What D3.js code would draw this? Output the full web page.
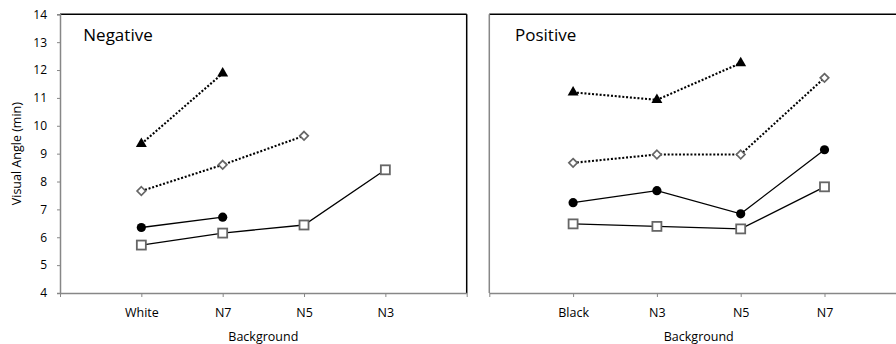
<!DOCTYPE html>
<html><head><meta charset="utf-8">
<script src="https://cdn.jsdelivr.net/npm/d3@7"></script>
<style>body{margin:0;background:#fff}svg{display:block}text{font-family:"Open Sans",sans-serif;fill:#000}</style>
</head><body><svg id="c" width="896" height="344"></svg>
<script>
const yTicks = [4,5,6,7,8,9,10,11,12,13,14];
const negCats = ["White","N7","N5","N3"];
const posCats = ["Black","N3","N5","N7"];
// Negative panel series (null = missing)
const negTriangle = [9.35, 11.88, null, null];
const negDiamond  = [7.66, 8.60, 9.64, null];
const negCircle   = [6.35, 6.72, null, null];
const negSquare   = [5.72, 6.15, 6.44, 8.42];
// Positive panel series
const posTriangle = [11.20, 10.93, 12.25, null];
const posDiamond  = [8.67, 8.97, 8.97, 11.72];
const posCircle   = [7.24, 7.67, 6.84, 9.14];
const posSquare   = [6.48, 6.39, 6.30, 7.81];

const FONT = "'Open Sans',sans-serif";
const svg = d3.select("#c");
const y = d3.scaleLinear().domain([4,14]).range([293,14.3]);
const axisGray = "#878787";

function panel(cfg){
  const x = d3.scaleLinear().domain([0,5]).range([cfg.x0, cfg.x1]);
  const g = svg.append("g");
  g.append("line").attr("x1",cfg.x0).attr("x2",Math.min(cfg.x1,900)).attr("y1",y(14)).attr("y2",y(14)).attr("stroke","#000").attr("stroke-width",1.5);
  if (cfg.x1 < 896) g.append("line").attr("x1",cfg.x1).attr("x2",cfg.x1).attr("y1",y(14)).attr("y2",y(4)).attr("stroke","#000").attr("stroke-width",1.5);
  if (cfg.yLabels){
    const ya = d3.axisLeft(y).tickValues(yTicks).tickSize(3).tickPadding(10).tickFormat(d3.format("d"));
    const ga = g.append("g").attr("transform",`translate(${cfg.x0},0)`).call(ya);
    ga.select(".domain").attr("stroke",axisGray).attr("stroke-width",1.5);
    ga.selectAll(".tick line").attr("stroke",axisGray);
    ga.selectAll(".tick text").attr("font-size",12).attr("font-family",FONT).attr("fill","#000");
  } else {
    g.append("line").attr("x1",cfg.x0).attr("x2",cfg.x0).attr("y1",y(14)).attr("y2",y(4)).attr("stroke",axisGray).attr("stroke-width",1.5);
  }
  const xa = d3.axisBottom(x).tickValues([0,1,2,3,4,5]).tickSize(4).tickSizeOuter(0).tickFormat(d=> (d>=1&&d<=4)? cfg.cats[d-1] : "").tickPadding(11);
  const gx = g.append("g").attr("transform",`translate(0,${y(4)})`).call(xa);
  gx.select(".domain").attr("stroke",axisGray).attr("stroke-width",1.5);
  gx.selectAll(".tick line").attr("stroke",axisGray);
  gx.selectAll(".tick text").attr("font-size",12.5).attr("font-family",FONT).attr("fill","#000");
  g.append("text").attr("x",x(2.5)).attr("y",341).attr("text-anchor","middle").attr("font-size",12.5).text("Background");
  g.append("text").attr("x",cfg.x0+cfg.tx).attr("y",41).attr("font-size",17).text(cfg.title);

  function series(vals, dotted){
    const pts = vals.map((v,i)=>({i:i+1,v})).filter(d=>d.v!=null);
    const line = d3.line().x(d=>x(d.i)).y(d=>y(d.v));
    g.append("path").attr("d",line(pts)).attr("fill","none").attr("stroke","#000")
      .attr("stroke-width", dotted?2.1:1.3).attr("stroke-dasharray", dotted?"2,1.8":null);
    return pts;
  }
  const sq = series(cfg.square,false);
  const ci = series(cfg.circle,false);
  const di = series(cfg.diamond,true);
  const tr = series(cfg.triangle,true);
  g.selectAll(null).data(sq).enter().append("rect")
    .attr("x",d=>x(d.i)-4.5).attr("y",d=>y(d.v)-4.5).attr("width",9).attr("height",9)
    .attr("fill","#fff").attr("stroke","#666").attr("stroke-width",1.8);
  g.selectAll(null).data(ci).enter().append("circle")
    .attr("cx",d=>x(d.i)).attr("cy",d=>y(d.v)).attr("r",4.6).attr("fill","#000");
  g.selectAll(null).data(di).enter().append("path")
    .attr("d",d3.symbol(d3.symbolDiamond2,46))
    .attr("transform",d=>`translate(${x(d.i)},${y(d.v)})`)
    .attr("fill","#fff").attr("stroke","#666").attr("stroke-width",1.7);
  g.selectAll(null).data(tr).enter().append("path")
    .attr("d",d3.symbol(d3.symbolTriangle,52))
    .attr("transform",d=>`translate(${x(d.i)},${y(d.v)})`)
    .attr("fill","#000");
}

panel({x0:60, x1:466.7, cats:negCats, title:"Negative", tx:23.3, yLabels:true,
  triangle:negTriangle, diamond:negDiamond, circle:negCircle, square:negSquare});
panel({x0:489.3, x1:908.3, cats:posCats, title:"Positive", tx:25.7, yLabels:false,
  triangle:posTriangle, diamond:posDiamond, circle:posCircle, square:posSquare});

svg.append("text").attr("transform",`translate(21,${y(9)}) rotate(-90)`).attr("text-anchor","middle")
  .attr("font-size",12.5).text("Visual Angle (min)");
</script></body></html>
